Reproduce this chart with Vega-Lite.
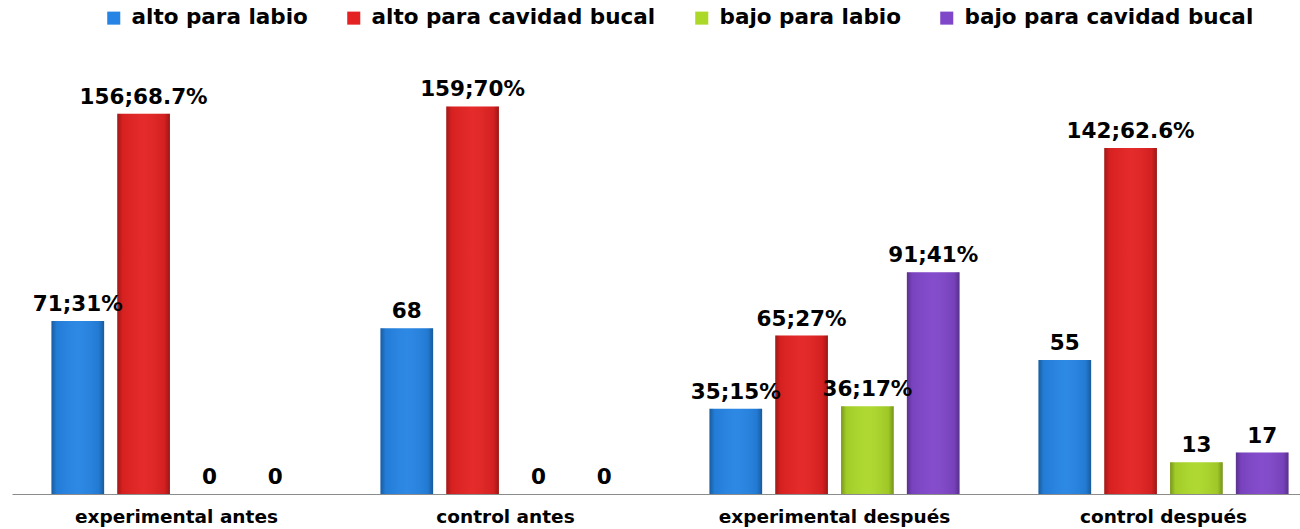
{
  "$schema": "https://vega.github.io/schema/vega-lite/v6.json",
  "width": 1288,
  "height": 390,
  "autosize": {"type": "none"},
  "padding": {"left": 12, "top": 104, "right": 0, "bottom": 35},
  "background": "white",
  "config": {"view": {"stroke": null}, "font": "DejaVu Sans"},
  "data": {
    "values": [
      {"group": "experimental antes", "serie": "alto para labio", "value": 71, "label": "71;31%"},
      {"group": "experimental antes", "serie": "alto para cavidad bucal", "value": 156, "label": "156;68.7%"},
      {"group": "experimental antes", "serie": "bajo para labio", "value": 0, "label": "0"},
      {"group": "experimental antes", "serie": "bajo para cavidad bucal", "value": 0, "label": "0"},
      {"group": "control antes", "serie": "alto para labio", "value": 68, "label": "68"},
      {"group": "control antes", "serie": "alto para cavidad bucal", "value": 159, "label": "159;70%"},
      {"group": "control antes", "serie": "bajo para labio", "value": 0, "label": "0"},
      {"group": "control antes", "serie": "bajo para cavidad bucal", "value": 0, "label": "0"},
      {"group": "experimental después", "serie": "alto para labio", "value": 35, "label": "35;15%"},
      {"group": "experimental después", "serie": "alto para cavidad bucal", "value": 65, "label": "65;27%"},
      {"group": "experimental después", "serie": "bajo para labio", "value": 36, "label": "36;17%"},
      {"group": "experimental después", "serie": "bajo para cavidad bucal", "value": 91, "label": "91;41%"},
      {"group": "control después", "serie": "alto para labio", "value": 55, "label": "55"},
      {"group": "control después", "serie": "alto para cavidad bucal", "value": 142, "label": "142;62.6%"},
      {"group": "control después", "serie": "bajo para labio", "value": 13, "label": "13"},
      {"group": "control después", "serie": "bajo para cavidad bucal", "value": 17, "label": "17"}
    ]
  },
  "encoding": {
    "x": {
      "field": "group",
      "type": "nominal",
      "sort": ["experimental antes", "control antes", "experimental después", "control después"],
      "scale": {"range": [0, 1316], "paddingInner": 0, "paddingOuter": 0},
      "axis": {
        "title": null,
        "labelAngle": 0,
        "ticks": false,
        "domainColor": "#8c8c8c",
        "domainWidth": 1.2,
        "labelFont": "DejaVu Sans",
        "labelFontWeight": "bold",
        "labelFontSize": 18.5,
        "labelColor": "#000000",
        "labelPadding": 13,
        "labelBaseline": "top",
        "labelLimit": 0
      }
    },
    "xOffset": {
      "field": "serie",
      "sort": ["alto para labio", "alto para cavidad bucal", "bajo para labio", "bajo para cavidad bucal"],
      "scale": {"paddingInner": 0.2, "paddingOuter": 0.6}
    },
    "y": {
      "field": "value",
      "type": "quantitative",
      "scale": {"domain": [0, 160]},
      "axis": null
    }
  },
  "layer": [
    {
      "mark": {"type": "bar", "strokeWidth": 0},
      "encoding": {
        "color": {
          "field": "serie",
          "type": "nominal",
          "sort": ["alto para labio", "alto para cavidad bucal", "bajo para labio", "bajo para cavidad bucal"],
          "scale": {
            "domain": ["alto para labio", "alto para cavidad bucal", "bajo para labio", "bajo para cavidad bucal"],
            "range": ["#2584e4", "#e42222", "#acd82a", "#8046ca"]
          },
          "legend": {
            "title": null,
            "orient": "none",
            "legendX": 91,
            "legendY": -97,
            "direction": "horizontal",
            "symbolType": "square",
            "symbolSize": 170,
            "symbolStrokeWidth": 0,
            "labelFont": "DejaVu Sans",
            "labelFontWeight": "bold",
            "labelFontSize": 21.5,
            "labelColor": "#000000",
            "labelOffset": 7,
            "labelLimit": 0,
            "columnPadding": 35
          }
        }
      }
    },
    {
      "mark": {
        "type": "bar",
        "strokeWidth": 0,
        "fill": {
          "gradient": "linear",
          "x1": 0, "y1": 0, "x2": 1, "y2": 0,
          "stops": [
            {"offset": 0, "color": "rgba(0,0,0,0.30)"},
            {"offset": 0.1, "color": "rgba(0,0,0,0.06)"},
            {"offset": 0.5, "color": "rgba(255,255,255,0.04)"},
            {"offset": 0.9, "color": "rgba(0,0,0,0.08)"},
            {"offset": 1, "color": "rgba(0,0,0,0.32)"}
          ]
        }
      },
      "encoding": {}
    },
    {
      "mark": {"type": "text", "dy": -10, "baseline": "alphabetic", "fontSize": 21.5, "fontWeight": "bold", "font": "DejaVu Sans", "color": "#000000"},
      "encoding": {"text": {"field": "label", "type": "nominal"}}
    }
  ]
}
